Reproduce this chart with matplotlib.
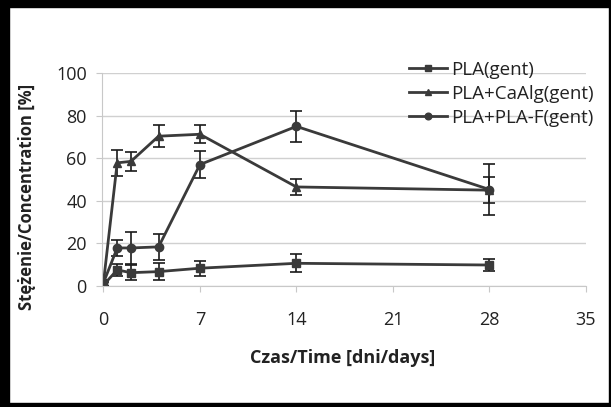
import matplotlib
matplotlib.use('Agg')
from matplotlib import pyplot as plt
from matplotlib.patches import Rectangle

# days of sampling
days = [0, 1, 2, 4, 7, 14, 28]

# concentration [%] and standard deviation
pla = [0.5, 7.6, 6.3, 6.8, 8.4, 10.7, 9.9]
pla_err = [1.5, 2.7, 3.5, 4.0, 3.6, 4.2, 3.0]

pla_caalg = [1.5, 57.8, 58.5, 70.3, 71.2, 46.5, 45.0]
pla_caalg_err = [1.5, 6.0, 4.5, 5.1, 4.3, 3.9, 6.0]

pla_plaf = [1.5, 17.9, 17.9, 18.4, 57.0, 74.9, 45.3]
pla_plaf_err = [1.5, 3.9, 7.5, 6.0, 6.3, 7.2, 12.0]

labels = ['PLA(gent)', 'PLA+CaAlg(gent)', 'PLA+PLA-F(gent)']
x_ticks = [0, 7, 14, 21, 28, 35]
y_ticks = [0, 20, 40, 60, 80, 100]

plt.rcParams['font.family'] = ['Open Sans', 'DejaVu Sans']

W, H = 611, 407
fig = plt.figure(figsize=(W / 100, H / 100), dpi=100)
ax = fig.add_axes([0.167, 0.297, 0.792, 0.524])

line_color = '#3a3a3a'
series = [(pla, pla_err, 's'), (pla_caalg, pla_caalg_err, '^'), (pla_plaf, pla_plaf_err, 'o')]
handles = []
for (vals, errs, mk), lab in zip(series, labels):
    c = ax.errorbar(days, vals, yerr=errs, color=line_color, lw=2, marker=mk, ms=6,
                    ecolor='#1a1a1a', elinewidth=1.2, capsize=4, capthick=1.2, label=lab)
    handles.append(c[0])

ax.set_xlim(-0.1, 35)
ax.set_ylim(0, 100)
ax.set_xticks(x_ticks)
ax.set_yticks(y_ticks)
ax.yaxis.grid(True, color='#d0d0d0', lw=1)
ax.set_axisbelow(True)
for s in ['top', 'right']:
    ax.spines[s].set_visible(False)
for s in ['left', 'bottom']:
    ax.spines[s].set_color('#c8c8c8')
ax.tick_params(axis='both', colors='#c8c8c8', labelcolor='#222222', labelsize=13, length=4)
ax.tick_params(axis='x', pad=14)
ax.tick_params(axis='y', pad=7)

ax.set_xlabel('Czas/Time [dni/days]', fontsize=13, fontweight='bold', color='#222222')
ax.set_ylabel('Stężenie/Concentration [%]', fontsize=12, fontweight='bold', color='#222222')
ax.xaxis.set_label_coords(0.497, -0.295)
ax.yaxis.set_label_coords(-0.136, 0.42)

leg = fig.legend(handles, labels, loc='upper left', bbox_to_anchor=(409 / W, 1 - 61 / H),
                 frameon=False, fontsize=13.5, handlelength=2.0, handletextpad=0.27,
                 labelspacing=0.32, borderpad=0, borderaxespad=0, markerscale=0.8)
for t in leg.get_texts():
    t.set_color('#222222')

# black frame around the picture
for (x0, y0, w, h) in [(0, H - 7, W, 7), (0, 0, 9, H), (0, 0, W, 4), (W - 2, 0, 2, H)]:
    fig.patches.append(Rectangle((x0 / W, y0 / H), w / W, h / H, transform=fig.transFigure,
                                 color='black', zorder=10))

plt.savefig('out.png', dpi=100)
plt.close()
